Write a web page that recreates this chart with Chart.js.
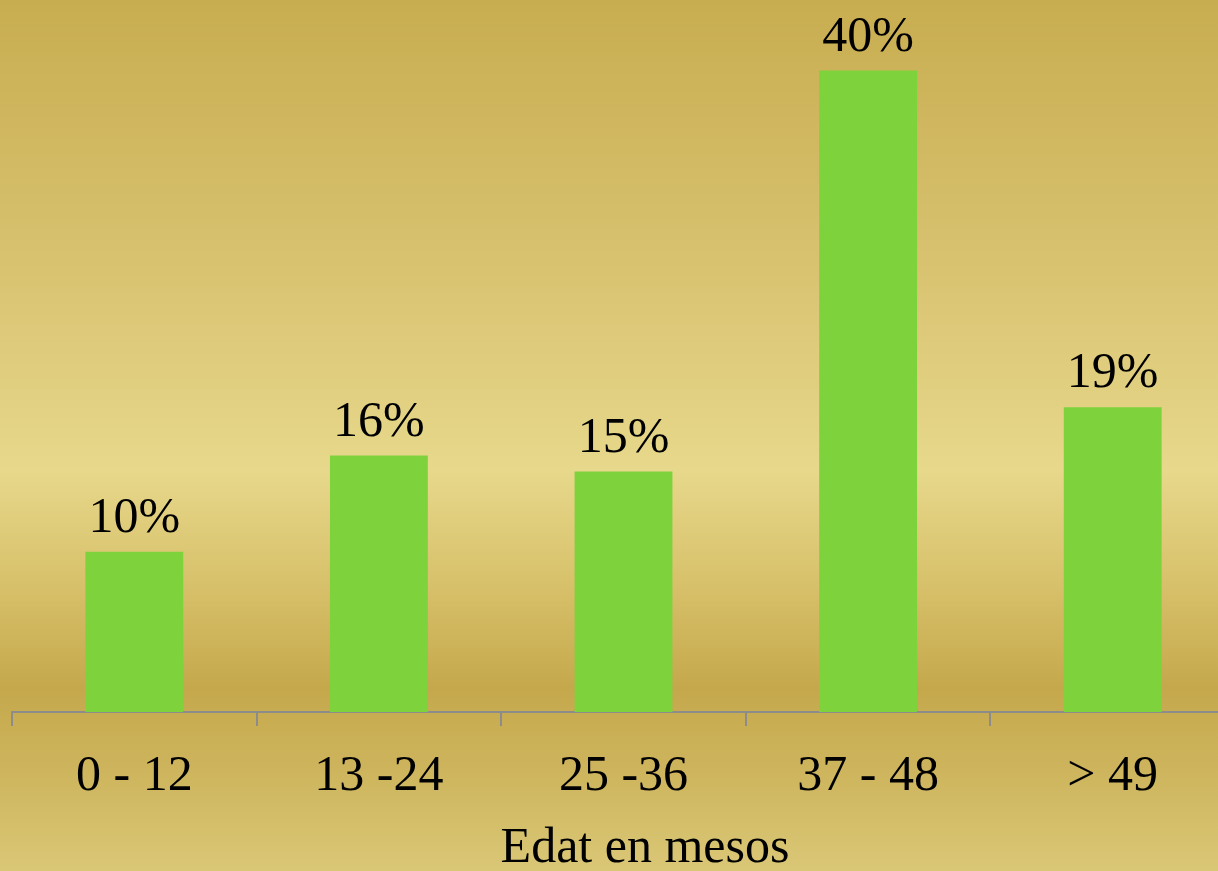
<!DOCTYPE html>
<html>
<head>
<meta charset="utf-8">
<script src="https://cdn.jsdelivr.net/npm/chart.js@4"></script>
<style>
  html, body { margin: 0; padding: 0; overflow: hidden; }
  body {
    width: 1218px; height: 871px;
    background: linear-gradient(to bottom, #c8ad50 0%, #d8c270 30%, #e7d88b 54%, #d6bf68 68%, #c5a84c 79%, #cdb45c 88%, #dac776 100%);
  }
  #wrap { position: absolute; left: 0; top: 0; width: 1240px; height: 871px; }
</style>
</head>
<body>
<div id="wrap"><canvas id="chart"></canvas></div>
<script>
const categories = ['0 - 12', '13 -24', '25 -36', '37 - 48', '> 49'];
const values = [10, 16, 15, 40, 19];
const axisTitle = 'Edat en mesos';

const serif = 'Georgia, "Liberation Serif", "DejaVu Serif", serif';

// value labels above the bars + axis title under the tick labels
const barLabels = {
  id: 'barLabels',
  afterDatasetsDraw(chart) {
    const ctx = chart.ctx;
    const meta = chart.getDatasetMeta(0);
    ctx.save();
    ctx.font = '50px ' + serif;
    ctx.fillStyle = '#000';
    ctx.textAlign = 'center';
    ctx.textBaseline = 'bottom';
    meta.data.forEach((bar, i) => {
      ctx.fillText(values[i] + '%', bar.x, bar.y - 8);
    });
    ctx.textBaseline = 'middle';
    ctx.fillText(axisTitle, 645, chart.height - 22);
    ctx.restore();
  }
};

new Chart(document.getElementById('chart'), {
  type: 'bar',
  data: {
    labels: categories,
    datasets: [{
      data: values,
      backgroundColor: '#7ed23c',
      barPercentage: 0.4,
      categoryPercentage: 1.0
    }]
  },
  options: {
    responsive: true,
    maintainAspectRatio: false,
    animation: false,
    layout: { padding: { left: 12, right: 5, top: 0, bottom: 43 } },
    plugins: { legend: { display: false }, tooltip: { enabled: false } },
    scales: {
      x: {
        offset: true,
        grid: { offset: true, drawOnChartArea: false, color: '#8c8c8c', tickLength: 14, lineWidth: 2 },
        border: { color: '#8c8c8c', width: 2 },
        ticks: { color: '#000', font: { family: serif, size: 50 }, padding: 21 }
      },
      y: {
        display: false,
        min: 0,
        max: 44.4
      }
    }
  },
  plugins: [barLabels]
});
</script>
</body>
</html>
